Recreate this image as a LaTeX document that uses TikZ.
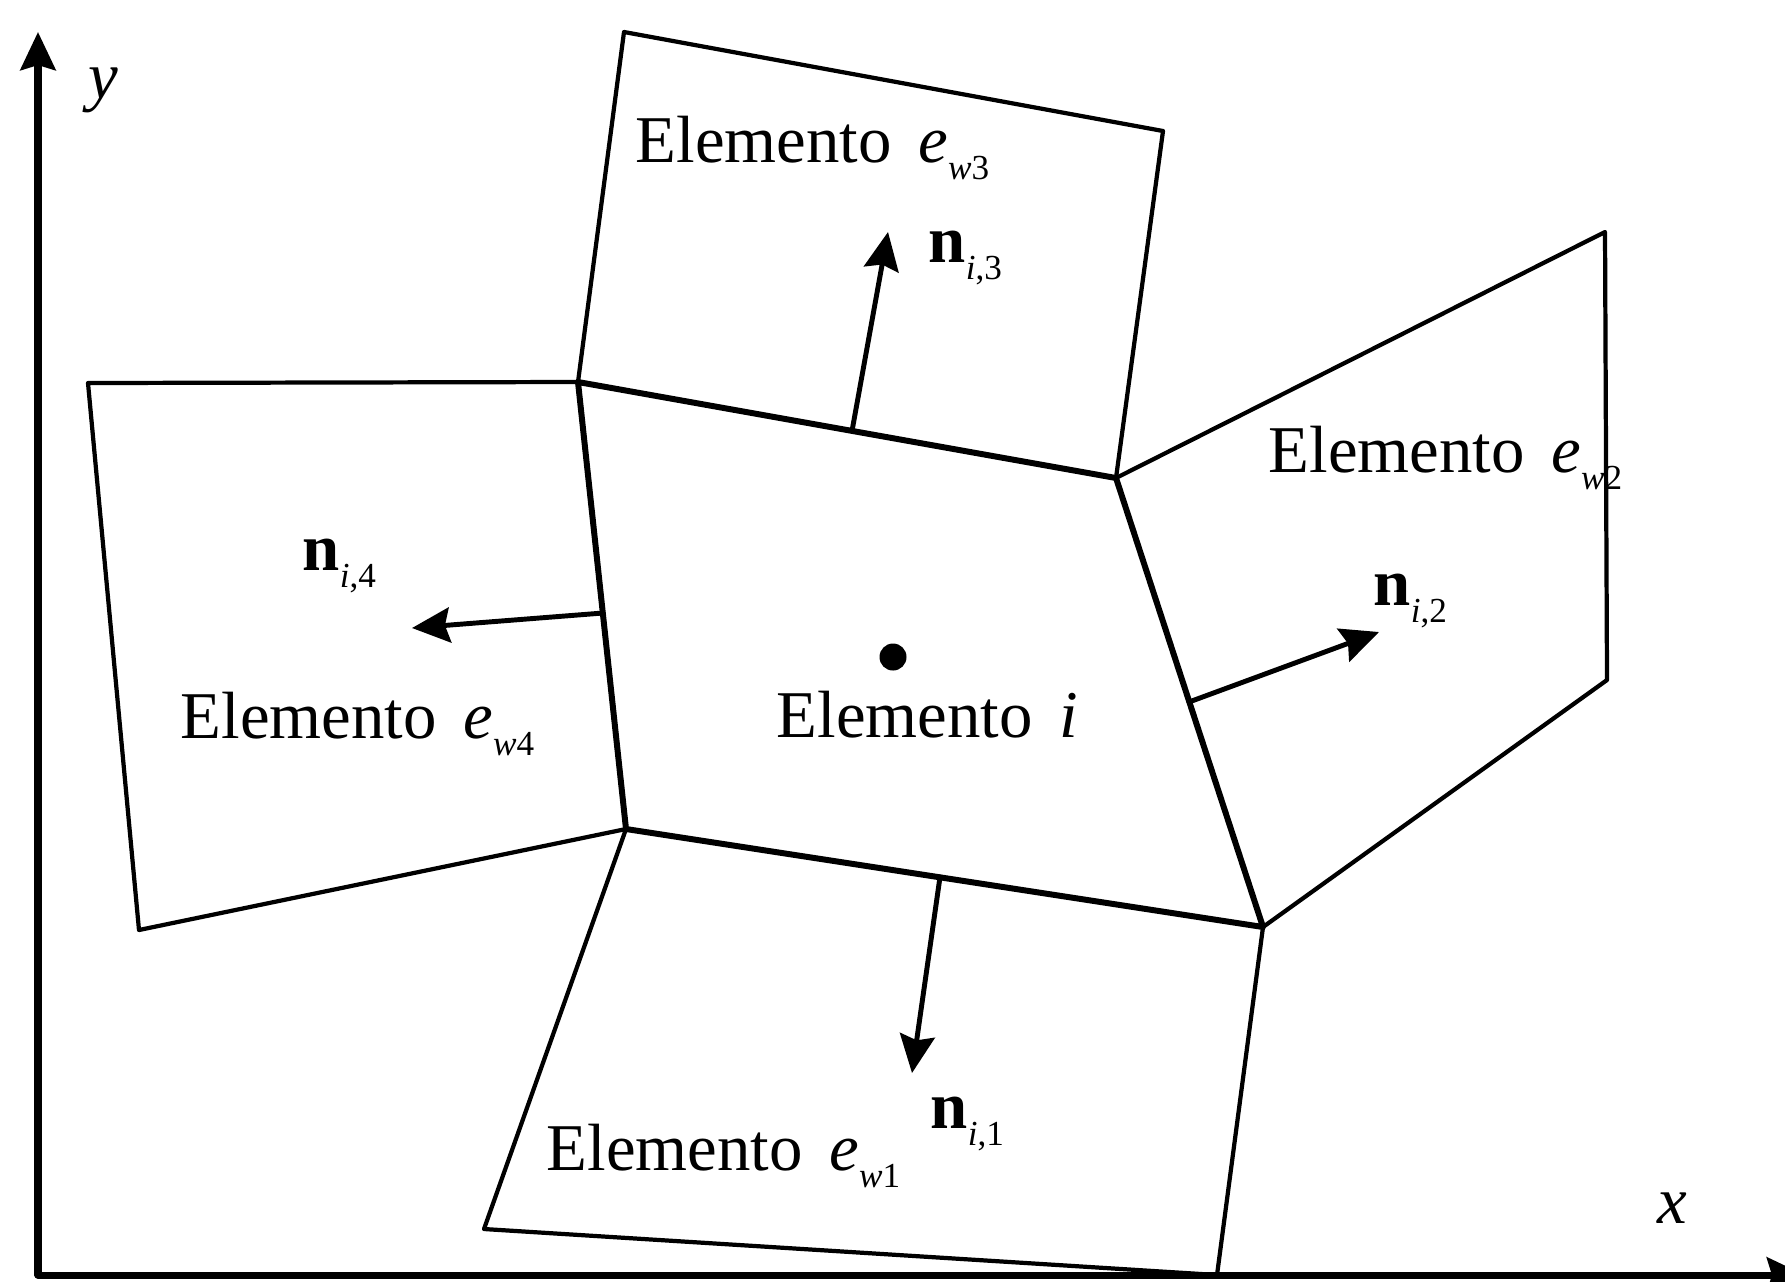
\documentclass[tikz,border=0pt]{standalone}
\usepackage{fontspec}
\setmainfont{Liberation Serif}
\usetikzlibrary{arrows.meta}
\newcommand{\lowidx}[1]{\raisebox{-5pt}{\fontsize{10}{11}\selectfont #1}}

\begin{document}
\begin{tikzpicture}[x=0.01cm,y=-0.01cm,>={Stealth[length=3.8mm,width=3.5mm,inset=0.5mm]},line cap=round,line join=round,
  outer/.style={line width=1.2pt},
  inner/.style={line width=1.7pt},
  nvec/.style={->,line width=1.4pt},
  axis/.style={->,line width=2pt},
  lbl/.style={anchor=base west,inner sep=0pt,font=\fontsize{19}{23}\selectfont}]
\useasboundingbox (0,0) rectangle (1785,1281);
% axes
\coordinate (o) at (38,1275);
\coordinate (ytip) at (38,32);
\coordinate (xtip) at (1805,1275);
% element i
\coordinate (A) at (578,382);
\coordinate (B) at (1116,478);
\coordinate (C) at (1263,927);
\coordinate (D) at (626,829);
% neighbours
\coordinate (T1) at (624,32);
\coordinate (T2) at (1163,131);
\coordinate (R1) at (1605,232);
\coordinate (R2) at (1607,680);
\coordinate (L1) at (88,383);
\coordinate (L2) at (139,930);
\coordinate (U1) at (484,1229);
\coordinate (U2) at (1217,1275);
% normals
\coordinate (n3a) at (852,431);
\coordinate (n3b) at (888,232);
\coordinate (n2a) at (1189,702);
\coordinate (n2b) at (1379,632);
\coordinate (n4a) at (603,613);
\coordinate (n4b) at (412,628);
\coordinate (n1a) at (940,877);
\coordinate (n1b) at (912,1073);
\draw[axis] (o) -- (ytip);
\draw[axis] (o) -- (xtip);
\draw[outer] (A) -- (T1) -- (T2) -- (B);
\draw[outer] (B) -- (R1) -- (R2) -- (C);
\draw[outer] (A) -- (L1) -- (L2) -- (D);
\draw[outer] (D) -- (U1) -- (U2) -- (C);
\draw[inner] (A) -- (B) -- (C) -- (D) -- cycle;
\draw[nvec] (n3a) -- (n3b);
\draw[nvec] (n2a) -- (n2b);
\draw[nvec] (n4a) -- (n4b);
\draw[nvec] (n1a) -- (n1b);
\node[circle,fill,inner sep=0pt,minimum size=0.27cm] (ctr) at (893,657) {};
\node[lbl] (lw3) at (635,162) {Elemento\hspace{0.4em}\textit{e}\lowidx{\textit{w}3}};
\node[lbl] (ln3) at (928,262) {\textbf{n}\lowidx{\textit{i},3}};
\node[lbl] (lw2) at (1268,472) {Elemento\hspace{0.4em}\textit{e}\lowidx{\textit{w}2}};
\node[lbl] (ln2) at (1373,605) {\textbf{n}\lowidx{\textit{i},2}};
\node[lbl] (ln4) at (302,570) {\textbf{n}\lowidx{\textit{i},4}};
\node[lbl] (lw4) at (180,738) {Elemento\hspace{0.4em}\textit{e}\lowidx{\textit{w}4}};
\node[lbl] (li) at (776,737) {Elemento\hspace{0.4em}\textit{i}};
\node[lbl] (ln1) at (930,1128) {\textbf{n}\lowidx{\textit{i},1}};
\node[lbl] (lw1) at (546,1170) {Elemento\hspace{0.4em}\textit{e}\lowidx{\textit{w}1}};
\node[lbl] (ly) at (88,98) {\textit{y}};
\node[lbl] (lx) at (1657,1223) {\textit{x}};
\end{tikzpicture}
\end{document}
